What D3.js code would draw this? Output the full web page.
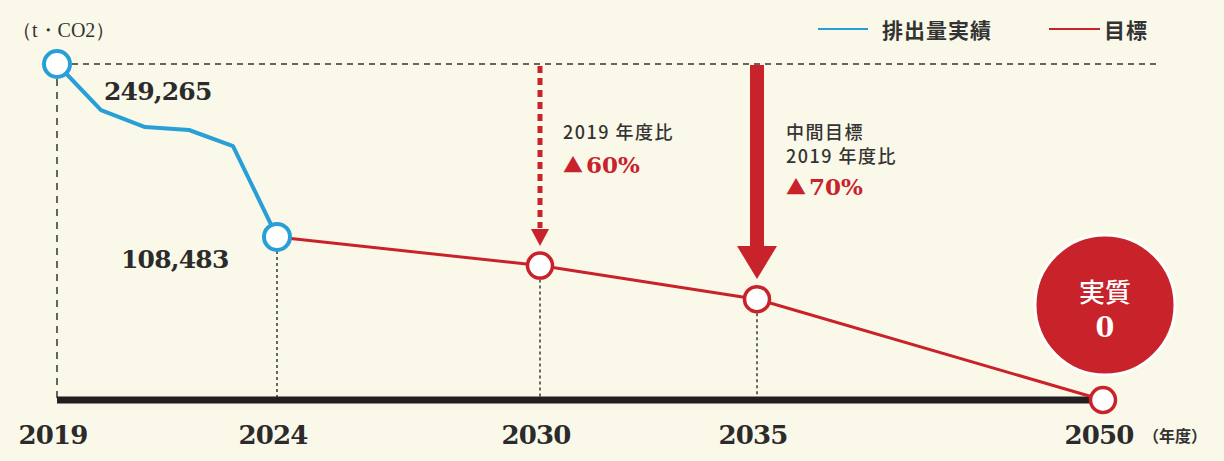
<!DOCTYPE html>
<html lang="ja">
<head>
<meta charset="UTF-8">
<script src="https://d3js.org/d3.v7.min.js"></script>
<style>
  html, body { margin: 0; padding: 0; background: #faf8e8; }
  svg { display: block; }
  .jp { font-family: "Noto Sans CJK JP", "Noto Sans", sans-serif; font-weight: 700; fill: #333; }
  .num { font-family: "DejaVu Serif", serif; font-weight: 700; fill: #2b2b2b; }
</style>
</head>
<body>
<svg id="chart" width="1224" height="461"></svg>
<script>
// data
const actualYears = [2019, 2020, 2021, 2022, 2023, 2024];
const actualValues = [249265, 215000, 202500, 200300, 188400, 121000];
const targetYears = [2024, 2030, 2035, 2050];
const targetValues = [121000, 99700, 74800, 0];
const axisYears = [2019, 2024, 2030, 2035, 2050];
const valueLabels = ["249,265", "108,483"];
const legendLabels = ["排出量実績", "目標"];

const blue = "#289fd6", red = "#c8222b";
const width = 1224, height = 461;

const svg = d3.select("#chart");
svg.append("rect").attr("width", width).attr("height", height).attr("fill", "#faf8e8");

// piecewise scale: the picture compresses 2035-2050
const x = d3.scaleLinear().domain(axisYears).range([57, 277, 540, 757, 1103]);
const y = d3.scaleLinear().domain([0, 249265]).range([400, 64]);

const actual = actualYears.map((yr, i) => ({ yr, v: actualValues[i] }));
const target = targetYears.map((yr, i) => ({ yr, v: targetValues[i] }));
const line = d3.line().x(d => x(d.yr)).y(d => y(d.v));

// unit
svg.append("text").attr("x", 12).attr("y", 37)
  .style("font-family", "'Liberation Serif', serif").style("font-size", "20px")
  .style("fill", "#333").text("（t・CO2）");

// reference dashed line at 2019 level
svg.append("line")
  .attr("x1", x(2019) + 15).attr("x2", 1160)
  .attr("y1", y(249265)).attr("y2", y(249265))
  .attr("stroke", "#333").attr("stroke-width", 1.5).attr("stroke-dasharray", "6,5");
svg.append("line")
  .attr("x1", x(2019)).attr("x2", x(2019))
  .attr("y1", y(249265) + 15).attr("y2", y(0))
  .attr("stroke", "#333").attr("stroke-width", 1.5).attr("stroke-dasharray", "7,6");

// dotted drop lines
svg.selectAll(".drop").data(target.slice(0, 3)).enter().append("line")
  .attr("x1", d => x(d.yr)).attr("x2", d => x(d.yr))
  .attr("y1", d => y(d.v) + 14).attr("y2", y(0))
  .attr("stroke", "#444").attr("stroke-width", 1.6).attr("stroke-dasharray", "3,3");

// axis bar
svg.append("line")
  .attr("x1", x(2019)).attr("x2", x(2050))
  .attr("y1", y(0)).attr("y2", y(0))
  .attr("stroke", "#231f20").attr("stroke-width", 7);

// year labels
svg.selectAll(".yr").data(axisYears).enter().append("text")
  .attr("class", "num")
  .attr("x", d => x(d) - 4).attr("y", 444)
  .attr("text-anchor", "middle")
  .style("font-size", "26px").style("letter-spacing", "-0.8px")
  .text(d => d);
svg.append("text").attr("class", "jp").attr("x", 1143).attr("y", 442)
  .style("font-size", "16px").text("（年度）");

// 2030 dashed arrow
svg.append("line")
  .attr("x1", x(2030)).attr("x2", x(2030))
  .attr("y1", y(249265) + 2).attr("y2", 228)
  .attr("stroke", red).attr("stroke-width", 5).attr("stroke-dasharray", "7,5");
svg.append("path")
  .attr("d", `M${x(2030) - 9},229 L${x(2030) + 9},229 L${x(2030)},246 Z`)
  .attr("fill", red);

// 2035 solid arrow
svg.append("rect")
  .attr("x", x(2035) - 7).attr("y", y(249265) + 1)
  .attr("width", 14).attr("height", 247 - y(249265) - 1)
  .attr("fill", red);
svg.append("path")
  .attr("d", `M${x(2035) - 20},246 L${x(2035) + 20},246 L${x(2035)},279 Z`)
  .attr("fill", red);

// lines
svg.append("path").datum(target).attr("d", line)
  .attr("fill", "none").attr("stroke", red).attr("stroke-width", 3);
svg.append("path").datum(actual).attr("d", line)
  .attr("fill", "none").attr("stroke", blue).attr("stroke-width", 4)
  .attr("stroke-linejoin", "round");

// net zero badge
svg.append("circle").attr("cx", 1105).attr("cy", 305).attr("r", 70)
  .attr("fill", red).attr("stroke", "#fff").attr("stroke-width", 3);
svg.append("text").attr("class", "jp").attr("x", 1105).attr("y", 302)
  .attr("text-anchor", "middle").style("font-size", "26px").style("fill", "#fff")
  .style("font-weight", 500).text("実質");
svg.append("text").attr("class", "num").attr("x", 1105).attr("y", 337)
  .attr("text-anchor", "middle").style("font-size", "27px").style("fill", "#fff")
  .text("0");

// markers
svg.selectAll(".m-actual").data([actual[0], actual[actual.length - 1]]).enter().append("circle")
  .attr("cx", d => x(d.yr)).attr("cy", d => y(d.v)).attr("r", 13)
  .attr("fill", "#fff").attr("stroke", blue).attr("stroke-width", 4);
svg.selectAll(".m-target").data(target.slice(1)).enter().append("circle")
  .attr("cx", d => x(d.yr)).attr("cy", d => y(d.v)).attr("r", 12.5)
  .attr("fill", "#fff").attr("stroke", red).attr("stroke-width", 3.5);

// value labels
svg.append("text").attr("class", "num").attr("x", 104).attr("y", 100)
  .style("font-size", "25px").style("letter-spacing", "-0.8px").text(valueLabels[0]);
svg.append("text").attr("class", "num").attr("x", 121).attr("y", 268)
  .style("font-size", "25px").style("letter-spacing", "-0.8px").text(valueLabels[1]);

// annotations
function pct(xp, yp, label) {
  const t = svg.append("text").attr("x", xp).attr("y", yp).style("fill", red);
  t.append("tspan").style("font-family", "'Noto Sans CJK JP', sans-serif")
    .style("font-size", "20px").text("▲");
  t.append("tspan").attr("class", "num").attr("dx", 3)
    .style("fill", red).style("font-size", "23px").text(label);
}
svg.append("text").attr("class", "jp").attr("x", 563).attr("y", 139)
  .style("font-size", "18px").style("font-weight", 500).style("letter-spacing", "1.5px")
  .text("2019 年度比");
pct(563, 173, "60%");

svg.append("text").attr("class", "jp").attr("x", 786).attr("y", 139)
  .style("font-size", "18px").style("font-weight", 500).style("letter-spacing", "1.5px")
  .text("中間目標");
svg.append("text").attr("class", "jp").attr("x", 786).attr("y", 163)
  .style("font-size", "18px").style("font-weight", 500).style("letter-spacing", "1.5px")
  .text("2019 年度比");
pct(786, 195, "70%");

// legend
const legend = [{ c: blue, x0: 818, x1: 868, tx: 882 }, { c: red, x0: 1049, x1: 1100, tx: 1104 }];
legend.forEach((d, i) => {
  svg.append("line").attr("x1", d.x0).attr("x2", d.x1).attr("y1", 29).attr("y2", 29)
    .attr("stroke", d.c).attr("stroke-width", 2);
  svg.append("text").attr("class", "jp").attr("x", d.tx).attr("y", 38)
    .style("font-size", "21px").style("letter-spacing", "1px").text(legendLabels[i]);
});
</script>
</body>
</html>
